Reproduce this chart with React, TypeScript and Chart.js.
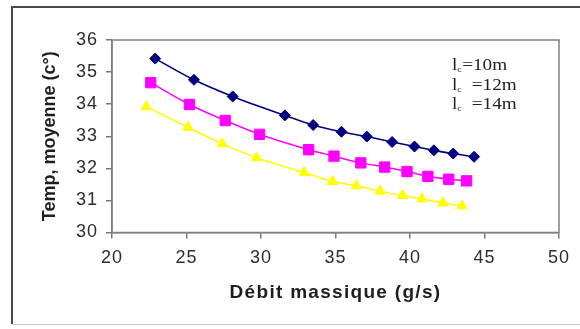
import { useEffect, useRef } from "react";
import { Chart, registerables } from "chart.js";

Chart.register(...registerables);

// Débit massique (g/s) and mean temperature (°C) for each cable length
const series10X = [22.9, 25.5, 28.1, 31.6, 33.5, 35.4, 37.1, 38.8, 40.3, 41.6, 42.9, 44.3];
const series10Y = [35.42, 34.76, 34.24, 33.65, 33.35, 33.14, 32.99, 32.82, 32.68, 32.56, 32.46, 32.36];
const series12X = [22.6, 25.2, 27.6, 29.9, 33.2, 34.9, 36.7, 38.3, 39.8, 41.2, 42.6, 43.8];
const series12Y = [34.67, 33.99, 33.49, 33.06, 32.58, 32.38, 32.17, 32.04, 31.9, 31.75, 31.66, 31.61];
const series14X = [22.3, 25.1, 27.4, 29.7, 32.9, 34.8, 36.4, 38.0, 39.5, 40.8, 42.2, 43.5];
const series14Y = [33.92, 33.28, 32.77, 32.33, 31.87, 31.59, 31.46, 31.29, 31.15, 31.05, 30.92, 30.83];

const seriesLabels = ["lc=10m", "lc =12m", "lc =14m"];
const legendSuffixes = ["=10m", "  =12m", "  =14m"];
const xTicks = [20, 25, 30, 35, 40, 45, 50];
const yTicks = [30, 31, 32, 33, 34, 35, 36];
const xTitle = "Débit massique (g/s)";
const yTitle = "Temp, moyenne (c°)";

const toPoints = (xs: number[], ys: number[]) => xs.map((x, i) => ({ x, y: ys[i] }));

function withSpacing(scale: any, method: string, spacing: string) {
  if (scale[`__patched_${method}`]) return;
  const orig = scale[method];
  scale[method] = function (...args: any[]) {
    const ctx = this.ctx;
    const prev = ctx.letterSpacing;
    ctx.letterSpacing = spacing;
    const r = orig.apply(this, args);
    ctx.letterSpacing = prev || "0px";
    return r;
  };
  scale[`__patched_${method}`] = true;
}

export default function App() {
  const ref = useRef<HTMLCanvasElement>(null);

  useEffect(() => {
    document.body.style.margin = "0";
    const canvas = ref.current;
    if (!canvas) return;

    const framePlugin = {
      id: "frame",
      afterLayout(chart: any) {
        const xs = chart.scales.x;
        const ys = chart.scales.y;
        if (xs) {
          withSpacing(xs, "drawTitle", "1.3px");
          withSpacing(xs, "drawLabels", "1px");
        }
        if (ys) withSpacing(ys, "drawLabels", "1px");
      },
      beforeDraw(chart: any) {
        const ctx = chart.ctx;
        ctx.save();
        ctx.fillStyle = "#ffffff";
        ctx.fillRect(0, 0, chart.width, chart.height);
        ctx.strokeStyle = "#c8c8c8";
        ctx.lineWidth = 1;
        ctx.beginPath();
        ctx.moveTo(12, 324.5);
        ctx.lineTo(580, 324.5);
        ctx.stroke();
        ctx.strokeStyle = "#4a4a4a";
        ctx.lineWidth = 2;
        ctx.beginPath();
        ctx.moveTo(12, 324);
        ctx.lineTo(12, 7);
        ctx.lineTo(580, 7);
        ctx.stroke();
        ctx.restore();
      },
      beforeDatasetsDraw(chart: any) {
        const { ctx, chartArea } = chart;
        ctx.save();
        ctx.strokeStyle = "#808080";
        ctx.lineWidth = 1.5;
        ctx.strokeRect(chartArea.left, chartArea.top, chartArea.right - chartArea.left, chartArea.bottom - chartArea.top);
        ctx.restore();
      },
      afterDraw(chart: any) {
        const ctx = chart.ctx;
        ctx.save();
        ctx.fillStyle = "#222222";
        ctx.textBaseline = "alphabetic";
        ctx.textAlign = "left";
        const x0 = 452;
        const sx = 1.2;
        ctx.translate(x0, 0);
        ctx.scale(sx, 1);
        legendSuffixes.forEach((suffix, i) => {
          const y = 70 + i * 19.5;
          ctx.font = '16px "Liberation Serif", serif';
          ctx.fillText("l", 0, y);
          const lw = ctx.measureText("l").width;
          ctx.font = '8px "Liberation Serif", serif';
          ctx.fillText("c", lw, y + 2);
          const cw = ctx.measureText("c").width;
          ctx.font = '16px "Liberation Serif", serif';
          ctx.fillText(suffix, lw + cw + 0.5, y);
        });
        ctx.restore();
      },
    };

    const chart = new Chart(canvas, {
      type: "line",
      data: {
        datasets: [
          {
            label: seriesLabels[0],
            data: toPoints(series10X, series10Y),
            borderColor: "#000080",
            backgroundColor: "#000080",
            borderWidth: 1.6,
            pointStyle: "rectRot",
            pointRadius: 5.5,
            pointBorderWidth: 1,
            cubicInterpolationMode: "monotone",
          },
          {
            label: seriesLabels[1],
            data: toPoints(series12X, series12Y),
            borderColor: "#ff00ff",
            backgroundColor: "#ff00ff",
            borderWidth: 1.5,
            pointStyle: "rect",
            pointRadius: 7.3,
            pointBorderWidth: 1,
            cubicInterpolationMode: "monotone",
          },
          {
            label: seriesLabels[2],
            data: toPoints(series14X, series14Y),
            borderColor: "#ffff00",
            backgroundColor: "#ffff00",
            borderWidth: 1.5,
            pointStyle: "triangle",
            pointRadius: 6,
            pointBorderWidth: 1,
            cubicInterpolationMode: "monotone",
          },
        ],
      },
      options: {
        responsive: false,
        animation: false,
        layout: { padding: { left: 30, top: 40, right: 21, bottom: 0 } },
        plugins: { legend: { display: false }, tooltip: { enabled: false } },
        scales: {
          x: {
            type: "linear",
            min: xTicks[0],
            max: xTicks[xTicks.length - 1],
            afterBuildTicks: (scale: any) => {
              scale.ticks = xTicks.map((v) => ({ value: v }));
            },
            afterFit: (scale: any) => {
              scale.height = 96.5;
            },
            grid: { drawOnChartArea: false, drawTicks: true, tickLength: 6, color: "#777777", lineWidth: 1.5 },
            border: { display: true, color: "#777777", width: 1.5 },
            ticks: {
              padding: 9,
              color: "#2e2e2e",
              font: { family: '"Liberation Sans", Arial, sans-serif', size: 18 },
              maxRotation: 0,
            },
            title: {
              display: true,
              text: xTitle,
              color: "#1e1e1e",
              font: { family: '"Liberation Sans", Arial, sans-serif', size: 19, weight: "bold" },
              padding: { top: 0, bottom: 25 },
            },
          },
          y: {
            type: "linear",
            min: yTicks[0],
            max: yTicks[yTicks.length - 1],
            afterBuildTicks: (scale: any) => {
              scale.ticks = yTicks.map((v) => ({ value: v }));
            },
            afterFit: (scale: any) => {
              scale.width = 82;
            },
            grid: { drawOnChartArea: false, drawTicks: true, tickLength: 6, color: "#777777", lineWidth: 1.5 },
            border: { display: true, color: "#777777", width: 1.5 },
            ticks: {
              padding: 8,
              color: "#2e2e2e",
              font: { family: '"Liberation Sans", Arial, sans-serif', size: 18 },
            },
            title: {
              display: true,
              text: yTitle,
              color: "#1e1e1e",
              font: { family: '"Liberation Sans", Arial, sans-serif', size: 18, weight: "bold" },
              padding: { top: 9.6, bottom: 0 },
            },
          },
        },
      },
      plugins: [framePlugin],
    } as any);

    return () => chart.destroy();
  }, []);

  return (
    <div style={{ position: "fixed", left: 0, top: 0, width: 580, height: 329, background: "#ffffff" }}>
      <canvas ref={ref} width={580} height={329} style={{ display: "block", width: 580, height: 329 }} />
    </div>
  );
}
